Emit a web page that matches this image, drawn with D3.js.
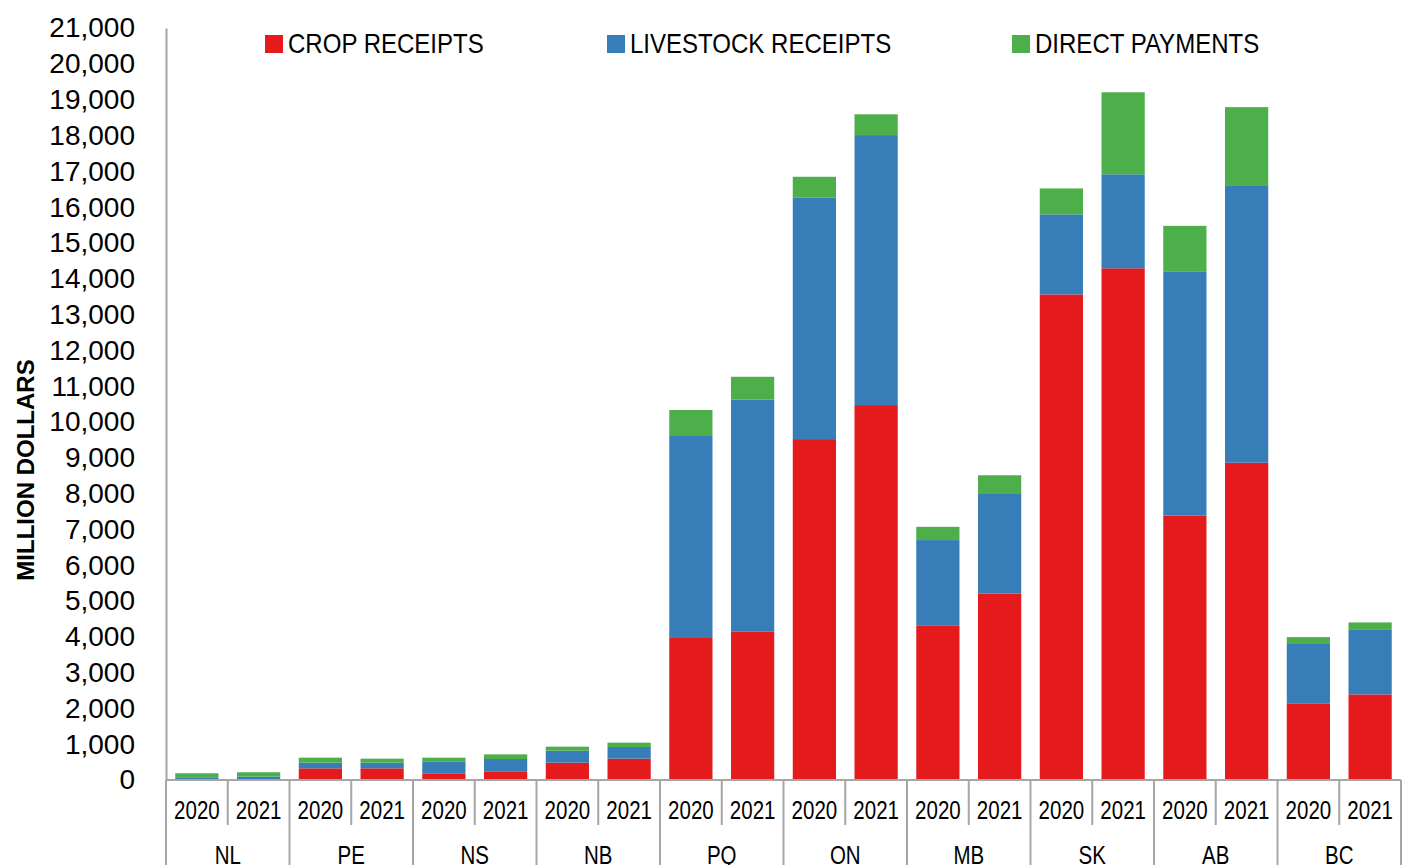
<!DOCTYPE html>
<html>
<head>
<meta charset="utf-8">
<script src="https://cdn.jsdelivr.net/npm/d3@7"></script>
<style>
  body { margin: 0; background: #fff; }
  text { font-family: "Liberation Sans Narrow", "Arial Narrow", "Liberation Sans", sans-serif; fill: #000; }
</style>
</head>
<body>
<div id="chart"></div>
<script>
// values, in million dollars
const provinces = ["NL", "PE", "NS", "NB", "PQ", "ON", "MB", "SK", "AB", "BC"];
const years = ["2020", "2021"];
const crop_receipts      = [20, 20, 326, 326, 186, 242, 484, 596, 3965, 4150, 9520, 10470, 4320, 5210, 13560, 14290, 7380, 8860, 2140, 2390];
const livestock_receipts = [56, 75, 158, 158, 335, 344, 335, 326, 5641, 6470, 6750, 7540, 2380, 2800, 2235, 2625, 6810, 7750, 1680, 1820];
const direct_payments    = [112, 121, 140, 112, 102, 130, 112, 121, 726, 640, 575, 580, 370, 500, 725, 2290, 1285, 2180, 170, 190];
const series_names = ["CROP RECEIPTS", "LIVESTOCK RECEIPTS", "DIRECT PAYMENTS"];
const y_ticks = d3.range(0, 21001, 1000);

const chart = {
  width:  1409,
  height: 865,
  plot: { left: 166, right: 1401, top: 28, bottom: 780 },
  colors: ["#E41A1C", "#377EB8", "#4DAF4A"],
  axis_color: "#a6a6a6",
  narrow: 0.82   // no narrow font installed, squeeze the regular one
};

// one row per bar: province, year and the three values
const rows = [];
provinces.forEach((p, i) => {
  years.forEach((yr, j) => {
    const k = i * years.length + j;
    rows.push({
      province: p,
      year: yr,
      "CROP RECEIPTS": crop_receipts[k],
      "LIVESTOCK RECEIPTS": livestock_receipts[k],
      "DIRECT PAYMENTS": direct_payments[k]
    });
  });
});

const svg = d3.select("#chart")
  .append("svg")
    .attr("width", chart.width)
    .attr("height", chart.height);

const x_group = d3.scaleBand()
  .domain(provinces)
  .range([chart.plot.left, chart.plot.right]);

const x_year = d3.scaleBand()
  .domain(years)
  .range([0, x_group.bandwidth()])
  .paddingInner(0.3)
  .paddingOuter(0.15);

const y = d3.scaleLinear()
  .domain([0, 21000])
  .range([chart.plot.bottom, chart.plot.top]);

const color = d3.scaleOrdinal()
  .domain(series_names)
  .range(chart.colors);

// bars
const stacked = d3.stack().keys(series_names)(rows);

svg.append("g")
  .selectAll("g")
  .data(stacked)
  .join("g")
    .attr("fill", (d) => color(d.key))
  .selectAll("rect")
  .data((d) => d)
  .join("rect")
    .attr("x", (d) => x_group(d.data.province) + x_year(d.data.year))
    .attr("width", x_year.bandwidth())
    .attr("y", (d) => y(d[1]))
    .attr("height", (d) => y(d[0]) - y(d[1]));

// y axis
const y_axis = svg.append("g")
  .attr("transform", `translate(${chart.plot.left},0)`)
  .call(d3.axisLeft(y).tickValues(y_ticks).tickFormat(d3.format(",")).tickSize(0).tickPadding(31));
y_axis.select(".domain").attr("stroke", chart.axis_color).attr("stroke-width", 2);
y_axis.selectAll("text")
  .style("font-size", "28px")
  .attr("fill", "#000");

svg.append("text")
  .attr("transform", `translate(34,470) rotate(-90)`)
  .attr("text-anchor", "middle")
  .style("font-size", "24px")
  .style("font-weight", "bold")
  .text("MILLION DOLLARS");

// x axis: base line, separators and two rows of labels
const x_axis = svg.append("g");
x_axis.append("line")
  .attr("x1", chart.plot.left).attr("x2", chart.plot.right)
  .attr("y1", chart.plot.bottom).attr("y2", chart.plot.bottom)
  .attr("stroke", chart.axis_color).attr("stroke-width", 2);

x_axis.selectAll(".group-line")
  .data(provinces.concat(["end"]))
  .join("line")
    .attr("class", "group-line")
    .attr("x1", (d, i) => chart.plot.left + i * x_group.step())
    .attr("x2", (d, i) => chart.plot.left + i * x_group.step())
    .attr("y1", chart.plot.bottom).attr("y2", chart.height)
    .attr("stroke", chart.axis_color).attr("stroke-width", 2);

x_axis.selectAll(".year-line")
  .data(provinces)
  .join("line")
    .attr("class", "year-line")
    .attr("x1", (d) => x_group(d) + x_group.bandwidth() / 2)
    .attr("x2", (d) => x_group(d) + x_group.bandwidth() / 2)
    .attr("y1", chart.plot.bottom).attr("y2", 825)
    .attr("stroke", chart.axis_color).attr("stroke-width", 2);

x_axis.selectAll(".year-label")
  .data(rows)
  .join("text")
    .attr("class", "year-label")
    .attr("transform", (d) => `translate(${x_group(d.province) + x_year(d.year) + x_year.bandwidth() / 2},819) scale(${chart.narrow},1)`)
    .attr("text-anchor", "middle")
    .style("font-size", "25px")
    .text((d) => d.year);

x_axis.selectAll(".group-label")
  .data(provinces)
  .join("text")
    .attr("class", "group-label")
    .attr("transform", (d) => `translate(${x_group(d) + x_group.bandwidth() / 2},864) scale(${chart.narrow},1)`)
    .attr("text-anchor", "middle")
    .style("font-size", "25px")
    .text((d) => d);

// legend
const legend_x = [265, 607, 1012];
const legend = svg.append("g")
  .selectAll("g")
  .data(series_names)
  .join("g")
    .attr("transform", (d, i) => `translate(${legend_x[i]},35)`);
legend.append("rect")
  .attr("width", 18).attr("height", 18)
  .attr("fill", (d) => color(d));
legend.append("text")
  .attr("transform", "translate(23,18) scale(0.89,1)")
  .style("font-size", "27px")
  .text((d) => d);
</script>
</body>
</html>
